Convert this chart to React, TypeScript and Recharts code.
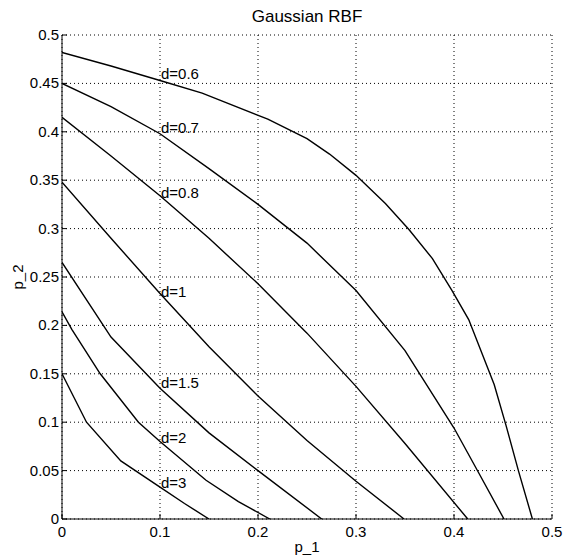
import { LineChart, Line, XAxis, YAxis, CartesianGrid, ReferenceDot } from 'recharts'

// p_1 / p_2 points for each d
const d06 = [[0, 0.482], [0.05, 0.468], [0.1, 0.453], [0.143, 0.44], [0.21, 0.413], [0.25, 0.393], [0.273, 0.377], [0.3, 0.355], [0.33, 0.326], [0.354, 0.299], [0.378, 0.269], [0.398, 0.236], [0.415, 0.206], [0.441, 0.139], [0.453, 0.097], [0.466, 0.049], [0.48, 0]]
const d07 = [[0, 0.45], [0.05, 0.426], [0.1, 0.398], [0.15, 0.362], [0.2, 0.325], [0.25, 0.285], [0.3, 0.236], [0.35, 0.174], [0.4, 0.094], [0.425, 0.048], [0.451, 0]]
const d08 = [[0, 0.415], [0.05, 0.375], [0.1, 0.334], [0.15, 0.29], [0.2, 0.243], [0.25, 0.192], [0.3, 0.137], [0.35, 0.078], [0.414, 0]]
const d1 = [[0, 0.348], [0.05, 0.29], [0.1, 0.233], [0.15, 0.178], [0.2, 0.127], [0.25, 0.081], [0.3, 0.039], [0.349, 0]]
const d15 = [[0, 0.265], [0.05, 0.188], [0.1, 0.135], [0.15, 0.089], [0.2, 0.05], [0.265, 0]]
const d2 = [[0, 0.214], [0.01, 0.196], [0.039, 0.15], [0.078, 0.1], [0.1, 0.08], [0.147, 0.04], [0.18, 0.018], [0.212, 0]]
const d3 = [[0, 0.15], [0.025, 0.1], [0.06, 0.06], [0.1, 0.033], [0.125, 0.016], [0.15, 0]]

const curves = [d06, d07, d08, d1, d15, d2, d3]
const curveNames = ['d=0.6', 'd=0.7', 'd=0.8', 'd=1', 'd=1.5', 'd=2', 'd=3']
const labelX = 0.1
const labelY = [0.46, 0.404, 0.337, 0.234, 0.14, 0.084, 0.037]

const xTicks = [0, 0.1, 0.2, 0.3, 0.4, 0.5]
const yTicks = [0, 0.05, 0.1, 0.15, 0.2, 0.25, 0.3, 0.35, 0.4, 0.45, 0.5]

const font = '"Liberation Sans", Arial, sans-serif'

function XTick({ x, y, payload }: any) {
  return (
    <g>
      <line x1={x} y1={y} x2={x} y2={y - 5} stroke="#000" />
      <text x={x} y={y + 18} textAnchor="middle" fontSize={15} fill="#000" fontFamily={font}>
        {payload.value}
      </text>
    </g>
  )
}

function YTick({ x, y, payload }: any) {
  return (
    <g>
      <line x1={x} y1={y} x2={x + 5} y2={y} stroke="#000" />
      <text x={x - 3} y={y + 5} textAnchor="end" fontSize={15} fill="#000" fontFamily={font}>
        {payload.value}
      </text>
    </g>
  )
}

export default function App() {
  return (
    <div style={{ position: 'absolute', left: 0, top: 0, width: 564, height: 560, background: '#fff', fontFamily: font }}>
      <div style={{ position: 'absolute', left: 62, top: 8, width: 490, textAlign: 'center', fontSize: 17, lineHeight: '18px' }}>
        Gaussian RBF
      </div>
      <div style={{ position: 'absolute', left: 62, top: 538, width: 490, textAlign: 'center', fontSize: 15, lineHeight: '18px' }}>
        p_1
      </div>
      <div
        style={{
          position: 'absolute',
          left: 18,
          top: 277,
          fontSize: 15,
          lineHeight: '18px',
          transform: 'translate(-50%, -50%) rotate(-90deg)',
          whiteSpace: 'nowrap',
        }}
      >
        p_2
      </div>
      <LineChart width={564} height={560} margin={{ top: 35, right: 12, bottom: 11, left: 10 }}>
        <CartesianGrid stroke="#000" strokeDasharray="1 3" />
        <XAxis
          type="number"
          dataKey="x"
          domain={[0, 0.5]}
          ticks={xTicks}
          height={30}
          tickSize={0}
          tickMargin={0}
          tick={<XTick />}
          axisLine={{ stroke: '#000' }}
          allowDataOverflow
        />
        <YAxis
          type="number"
          domain={[0, 0.5]}
          ticks={yTicks}
          width={52}
          tickSize={0}
          tickMargin={0}
          tick={<YTick />}
          axisLine={{ stroke: '#000' }}
          allowDataOverflow
        />
        {curves.map((c, i) => (
          <Line
            key={curveNames[i]}
            data={c.map(([x, y]) => ({ x, y }))}
            dataKey="y"
            type="linear"
            stroke="#000"
            strokeWidth={1.4}
            dot={false}
            activeDot={false}
            isAnimationActive={false}
          />
        ))}
        {curveNames.map((name, i) => (
          <ReferenceDot
            key={name}
            x={labelX}
            y={labelY[i]}
            r={0}
            shape={(p: any) => (
              <text x={p.cx + 1} y={p.cy + 5} fontSize={15} fill="#000" fontFamily={font}>
                {name}
              </text>
            )}
          />
        ))}
      </LineChart>
    </div>
  )
}
